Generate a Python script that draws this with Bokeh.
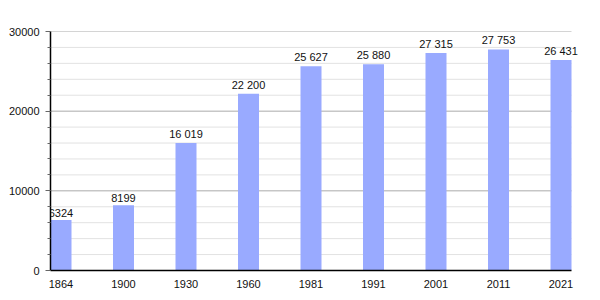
from bokeh.plotting import figure
from bokeh.models import ColumnDataSource, Range1d, SingleIntervalTicker, FixedTicker, LabelSet
from bokeh.core.properties import value
from bokeh.embed import file_html
from bokeh.resources import INLINE

years = ["1864", "1900", "1930", "1960", "1981", "1991", "2001", "2011", "2021"]
population = [6324, 8199, 16019, 22200, 25627, 25880, 27315, 27753, 26431]
labels = ["6324", "8199", "16 019", "22 200", "25 627", "25 880", "27 315", "27 753", "26 431"]

xs = list(range(len(years)))
src = ColumnDataSource(dict(x=xs, y=population, lab=labels))

bw = 0.336
x0, x1 = -bw / 2, len(years) - 1 + bw / 2
p = figure(width=600, height=300, output_backend="svg", toolbar_location=None,
           x_range=Range1d(x0, 8.312), y_range=Range1d(0, 30000),
           min_border_left=50, min_border_right=20, min_border_top=31, min_border_bottom=30)
p.outline_line_color = None
p.background_fill_color = "white"
p.xgrid.grid_line_color = None
p.ygrid.grid_line_color = None

# horizontal grid lines limited to the bar area
minor_levels = [v for v in range(2000, 30001, 2000) if v % 10000 != 0]
major_levels = [10000, 20000, 30000]
p.segment(x0=[x0] * len(minor_levels), x1=[x1] * len(minor_levels), y0=minor_levels, y1=minor_levels,
          line_color="#e2e2e2", line_width=1)
p.segment(x0=[x0] * len(major_levels), x1=[x1] * len(major_levels), y0=major_levels, y1=major_levels,
          line_color="#aaaaaa", line_width=1)

p.vbar(x="x", top="y", width=bw, bottom=0, source=src, fill_color="#99AAFF", line_color=None)
lbl = LabelSet(x="x", y="y", text="lab", source=src, text_align="center", text_baseline="bottom",
               y_offset=3, text_font_size="11px", text_font=value("Liberation Sans"), text_color="#111111",
               level="overlay")
p.add_layout(lbl)

# axes
p.xaxis.ticker = FixedTicker(ticks=xs)
p.xaxis.major_label_overrides = {i: y for i, y in enumerate(years)}
p.xaxis.bounds = (x0, x1)
p.xaxis.major_tick_line_color = None
p.xaxis.minor_tick_line_color = None
p.xaxis.axis_line_color = "black"
p.xaxis.axis_line_width = 1.5
p.xaxis.major_label_text_font = "Liberation Sans"
p.xaxis.major_label_text_font_size = "11px"
p.xaxis.major_label_text_color = "#111111"
p.xaxis.major_label_standoff = 3

p.yaxis.ticker = SingleIntervalTicker(interval=10000, num_minor_ticks=5)
p.yaxis.axis_line_color = "black"
p.yaxis.axis_line_width = 1.5
p.yaxis.major_tick_in = 0
p.yaxis.major_tick_out = 5
p.yaxis.minor_tick_in = 0
p.yaxis.minor_tick_out = 3
p.yaxis.major_tick_line_color = "#666666"
p.yaxis.minor_tick_line_color = "#666666"
p.yaxis.major_label_text_font = "Liberation Sans"
p.yaxis.major_label_text_font_size = "11px"
p.yaxis.major_label_text_color = "#111111"
p.yaxis.major_label_standoff = 6
p.yaxis.formatter.use_scientific = False

open("out.html", "w").write(file_html(p, INLINE))
